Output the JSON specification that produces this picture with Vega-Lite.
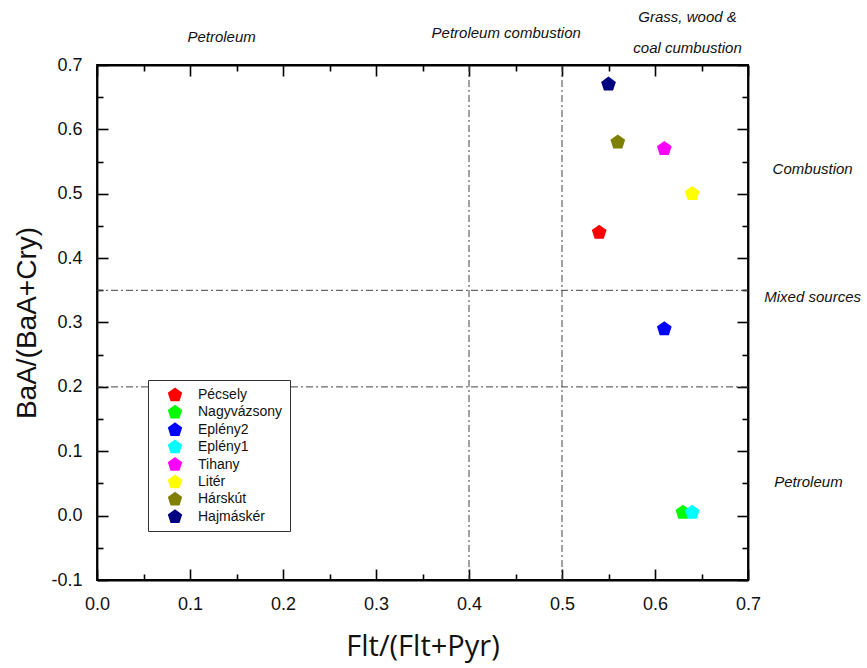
{
  "$schema": "https://vega.github.io/schema/vega-lite/v6.json",
  "width": 651,
  "height": 515,
  "autosize": "none",
  "padding": {"left": 97, "top": 65, "right": 119, "bottom": 88},
  "background": "white",
  "config": {
    "view": {"stroke": "#000", "strokeWidth": 1.8},
    "font": "Liberation Sans",
    "axis": {
      "grid": false,
      "labelFlush": false,
      "domainColor": "#000",
      "domainWidth": 1.8,
      "tickColor": "#000",
      "tickWidth": 1.6,
      "labelFont": "Liberation Sans",
      "labelFontSize": 18,
      "labelColor": "#111",
      "titleColor": "#111",
      "titleFontWeight": "normal"
    }
  },
  "datasets": {
    "sites": [
      {"site": "Pécsely", "flt": 0.54, "baa": 0.44},
      {"site": "Nagyvázsony", "flt": 0.63, "baa": 0.005},
      {"site": "Eplény2", "flt": 0.61, "baa": 0.29},
      {"site": "Eplény1", "flt": 0.64, "baa": 0.005},
      {"site": "Tihany", "flt": 0.61, "baa": 0.57},
      {"site": "Litér", "flt": 0.64, "baa": 0.5},
      {"site": "Hárskút", "flt": 0.56, "baa": 0.58},
      {"site": "Hajmáskér", "flt": 0.55, "baa": 0.67}
    ],
    "vlines": [{"flt": 0.4}, {"flt": 0.5}],
    "hlines": [{"baa": 0.2}, {"baa": 0.35}],
    "frame": [{"baa": 0.7}],
    "notes": [
      {"note": "Petroleum", "flt": 0.134, "baa": 0.743},
      {"note": "Petroleum combustion", "flt": 0.44, "baa": 0.75},
      {"note": "Grass, wood &", "flt": 0.635, "baa": 0.775},
      {"note": "coal cumbustion", "flt": 0.635, "baa": 0.727},
      {"note": "Combustion", "flt": 0.7695, "baa": 0.539},
      {"note": "Mixed sources", "flt": 0.7695, "baa": 0.34},
      {"note": "Petroleum", "flt": 0.765, "baa": 0.053}
    ]
  },
  "layer": [
    {
      "data": {"name": "vlines"},
      "mark": {"type": "rule", "color": "#444", "strokeWidth": 1, "strokeDash": [7, 3, 2, 3]},
      "encoding": {
        "x": {
          "field": "flt", "type": "quantitative",
          "scale": {"domain": [0, 0.7], "nice": false, "zero": false},
          "axis": {
            "orient": "top",
            "values": [0, 0.05, 0.1, 0.15, 0.2, 0.25, 0.3, 0.35, 0.4, 0.45, 0.5, 0.55, 0.6, 0.65, 0.7],
            "labels": false,
            "title": null,
            "tickSize": {"condition": {"test": "round(datum.value * 20) % 2 == 0", "value": -11}, "value": -6}
          }
        }
      }
    },
    {
      "data": {"name": "hlines"},
      "mark": {"type": "rule", "color": "#444", "strokeWidth": 1, "strokeDash": [7, 3, 2, 3]},
      "encoding": {
        "y": {
          "field": "baa", "type": "quantitative",
          "scale": {"domain": [-0.1, 0.7], "nice": false, "zero": false},
          "axis": {
            "orient": "right",
            "values": [-0.1, -0.05, 0, 0.05, 0.1, 0.15, 0.2, 0.25, 0.3, 0.35, 0.4, 0.45, 0.5, 0.55, 0.6, 0.65, 0.7],
            "labels": false,
            "title": null,
            "tickSize": {"condition": {"test": "round(datum.value * 20) % 2 == 0", "value": -11}, "value": -6}
          }
        }
      }
    },
    {
      "data": {"name": "frame"},
      "mark": {"type": "rule", "color": "#000", "strokeWidth": 1.8},
      "encoding": {
        "y": {"field": "baa", "type": "quantitative", "scale": {"domain": [-0.1, 0.7], "nice": false, "zero": false}, "axis": null}
      }
    },
    {
      "data": {"name": "sites"},
      "mark": {
        "type": "point",
        "filled": true,
        "opacity": 1,
        "size": 240,
        "shape": "M0,-1L0.951,-0.309L0.588,0.809L-0.588,0.809L-0.951,-0.309Z"
      },
      "encoding": {
        "x": {
          "field": "flt", "type": "quantitative",
          "scale": {"domain": [0, 0.7], "nice": false, "zero": false},
          "axis": {
            "orient": "bottom",
            "values": [0, 0.05, 0.1, 0.15, 0.2, 0.25, 0.3, 0.35, 0.4, 0.45, 0.5, 0.55, 0.6, 0.65, 0.7],
            "labelExpr": "round(datum.value * 20) % 2 == 0 ? replace(format(datum.value, '.1f'), '\u2212', '-') : ''",
            "tickSize": {"condition": {"test": "round(datum.value * 20) % 2 == 0", "value": -11}, "value": -6},
            "labelPadding": 26,
            "title": "Flt/(Flt+Pyr)",
            "titleFont": "Open Sans",
            "titleFontSize": 29,
            "titlePadding": 19
          }
        },
        "y": {
          "field": "baa", "type": "quantitative",
          "scale": {"domain": [-0.1, 0.7], "nice": false, "zero": false},
          "axis": {
            "orient": "left",
            "values": [-0.1, -0.05, 0, 0.05, 0.1, 0.15, 0.2, 0.25, 0.3, 0.35, 0.4, 0.45, 0.5, 0.55, 0.6, 0.65, 0.7],
            "labelExpr": "round(datum.value * 20) % 2 == 0 ? replace(format(datum.value, '.1f'), '\u2212', '-') : ''",
            "tickSize": {"condition": {"test": "round(datum.value * 20) % 2 == 0", "value": -11}, "value": -6},
            "labelPadding": 26,
            "title": "BaA/(BaA+Cry)",
            "titleFont": "Liberation Sans",
            "titleFontSize": 28,
            "titlePadding": 9
          }
        },
        "color": {
          "field": "site", "type": "nominal",
          "scale": {
            "domain": ["Pécsely", "Nagyvázsony", "Eplény2", "Eplény1", "Tihany", "Litér", "Hárskút", "Hajmáskér"],
            "range": ["#ff0000", "#00ff00", "#0000ff", "#00ffff", "#ff00ff", "#ffff00", "#808000", "#000080"]
          },
          "legend": {
            "title": null,
            "orient": "none",
            "legendX": 51,
            "legendY": 315,
            "padding": 7,
            "strokeColor": "#333",
            "fillColor": "white",
            "symbolType": "M0,-1L0.951,-0.309L0.588,0.809L-0.588,0.809L-0.951,-0.309Z",
            "symbolSize": 230,
            "symbolOffset": 12,
            "symbolStrokeWidth": 0,
            "symbolOpacity": 1,
            "rowPadding": 2.4,
            "labelOffset": 15,
            "labelFont": "Liberation Sans",
            "labelFontSize": 14,
            "labelColor": "#111"
          }
        }
      }
    },
    {
      "data": {"name": "notes"},
      "mark": {"type": "text", "font": "Liberation Sans", "fontStyle": "italic", "fontSize": 15, "color": "#111", "align": "center", "baseline": "middle"},
      "encoding": {
        "x": {"field": "flt", "type": "quantitative", "scale": {"domain": [0, 0.7], "nice": false, "zero": false}, "axis": null},
        "y": {"field": "baa", "type": "quantitative", "scale": {"domain": [-0.1, 0.7], "nice": false, "zero": false}, "axis": null},
        "text": {"field": "note"}
      }
    }
  ],
  "resolve": {"axis": {"x": "independent", "y": "independent"}}
}
